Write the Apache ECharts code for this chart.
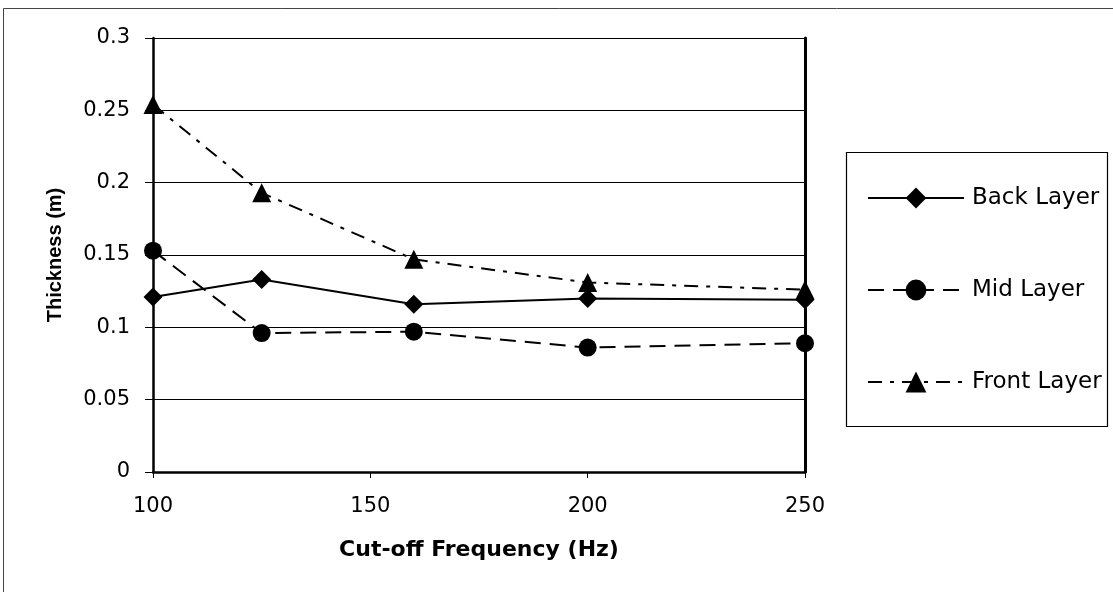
<!DOCTYPE html>
<html>
<head>
<meta charset="utf-8">
<script src="https://cdn.jsdelivr.net/npm/echarts@6/dist/echarts.min.js"></script>
<style>
html,body{margin:0;padding:0;background:#fff;}
#chart{width:1113px;height:592px;}
</style>
</head>
<body>
<div id="chart"></div>
<script>
const frequencies = [100, 125, 160, 200, 250];
const backLayer  = [0.121, 0.133, 0.116, 0.120, 0.119];
const midLayer   = [0.153, 0.096, 0.097, 0.086, 0.089];
const frontLayer = [0.254, 0.193, 0.147, 0.131, 0.126];
const seriesNames = ['Back Layer', 'Mid Layer', 'Front Layer'];
const xTitle = 'Cut-off Frequency (Hz)';
const yTitle = 'Thickness (m)';

const pair = (vals) => frequencies.map((f, i) => [f, vals[i]]);
const titleFont = 'Liberation Sans, Arial, sans-serif';
const tickFont = 'DejaVu Sans, sans-serif';

const chart = echarts.init(document.getElementById('chart'), null, {renderer: 'canvas'});
chart.setOption({
  animation: false,
  backgroundColor: '#fff',
  textStyle: {fontFamily: tickFont},
  graphic: [
    {type: 'rect', shape: {x: 3.5, y: 8.5, width: 1130, height: 620}, style: {fill: 'none', stroke: '#444', lineWidth: 1}},
    {type: 'rect', shape: {x: 846.5, y: 152.5, width: 261, height: 274}, style: {fill: '#fff', stroke: '#000', lineWidth: 1.2}, z: 5}
  ],
  grid: {left: 153, right: 308, top: 38, bottom: 120, show: false},
  legend: {
    orient: 'vertical',
    left: 862,
    top: 180,
    itemWidth: 96,
    itemHeight: 26,
    itemGap: 66,
    z: 10,
    textStyle: {fontFamily: tickFont, fontSize: 23, color: '#000', lineHeight: 26, padding: [0, 0, 0, 3]},
    data: seriesNames
  },
  xAxis: {
    type: 'value',
    min: 100, max: 250, interval: 50,
    name: xTitle,
    nameLocation: 'middle',
    nameGap: 67,
    nameTextStyle: {fontFamily: tickFont, fontSize: 22, fontWeight: 'bold', color: '#000'},
    axisLine: {show: true, onZero: false, lineStyle: {color: '#000', width: 2.5}},
    axisTick: {show: true, inside: false, length: 6, lineStyle: {color: '#000', width: 1}},
    axisLabel: {fontFamily: tickFont, fontSize: 21, color: '#000', margin: 24},
    splitLine: {show: false}
  },
  yAxis: [{
    type: 'value',
    min: 0, max: 0.3, interval: 0.05,
    name: yTitle,
    nameLocation: 'middle',
    nameGap: 88,
    nameRotate: 90,
    nameTextStyle: {fontFamily: titleFont, fontSize: 20, fontWeight: 'bold', color: '#000'},
    axisLine: {show: true, lineStyle: {color: '#000', width: 2.5}},
    axisTick: {show: true, length: 8, lineStyle: {color: '#000', width: 1}},
    axisLabel: {fontFamily: tickFont, fontSize: 21, color: '#000', margin: 23},
    splitLine: {show: true, lineStyle: {color: '#000', width: 1.2}}
  }, {
    type: 'value',
    position: 'right',
    min: 0, max: 0.3, interval: 0.05,
    axisLine: {show: true, lineStyle: {color: '#000', width: 3}},
    axisTick: {show: false},
    axisLabel: {show: false},
    splitLine: {show: false}
  }],
  series: [
    {
      name: seriesNames[0], type: 'line', data: pair(backLayer),
      symbol: 'diamond', symbolSize: 19,
      itemStyle: {color: '#000'},
      lineStyle: {color: '#000', width: 2, type: 'solid'},
      z: 4
    },
    {
      name: seriesNames[1], type: 'line', data: pair(midLayer),
      symbol: 'circle', symbolSize: 18,
      itemStyle: {color: '#000'},
      lineStyle: {color: '#000', width: 2, type: [16, 9]},
      z: 4
    },
    {
      name: seriesNames[2], type: 'line', data: pair(frontLayer),
      symbol: 'triangle', symbolSize: 19,
      itemStyle: {color: '#000'},
      lineStyle: {color: '#000', width: 2, type: [14, 8, 4, 8]},
      z: 4
    }
  ]
});
</script>
</body>
</html>
